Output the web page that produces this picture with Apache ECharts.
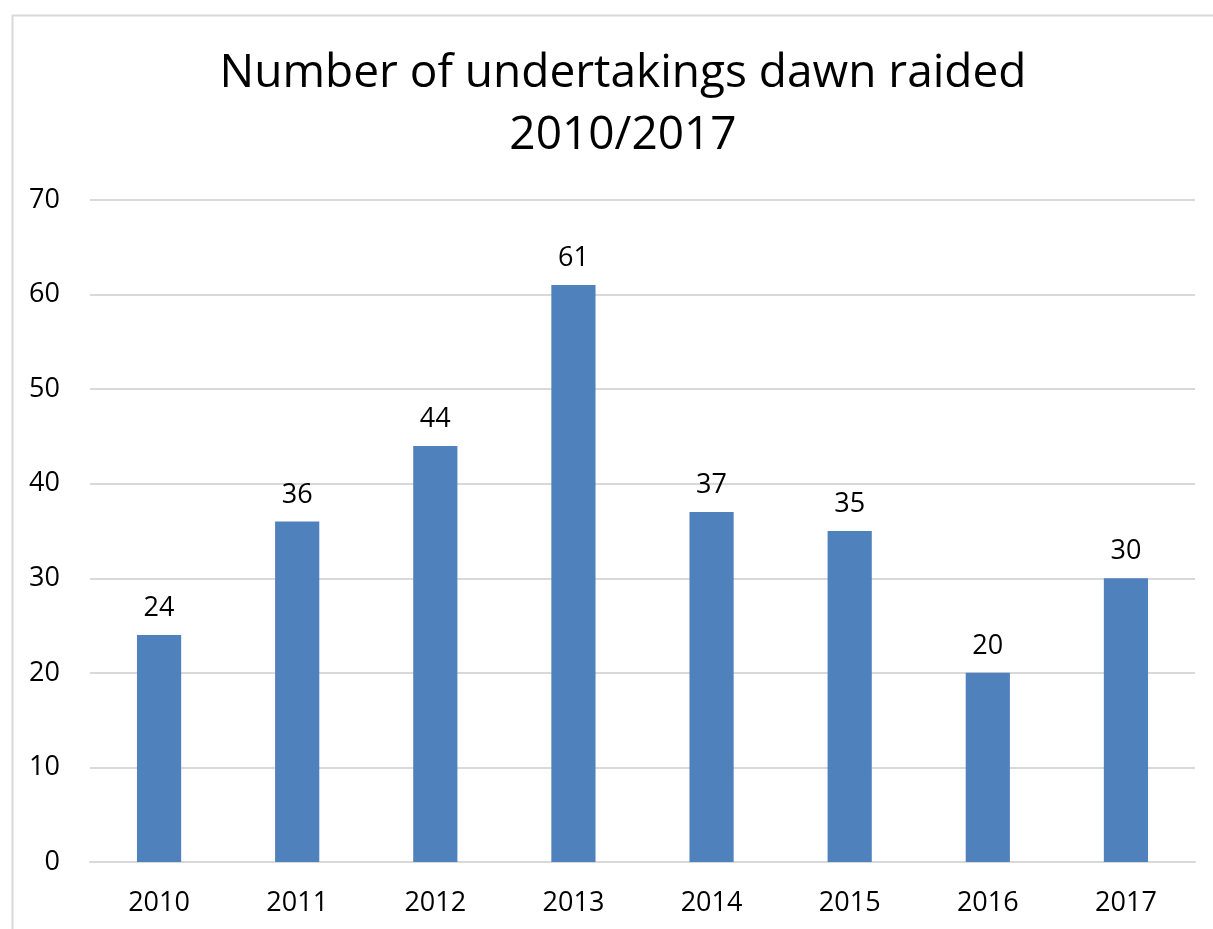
<!DOCTYPE html>
<html>
<head>
<meta charset="utf-8">
<script src="https://cdn.jsdelivr.net/npm/echarts@6/dist/echarts.min.js"></script>
<style>
  html, body { margin: 0; padding: 0; background: #fff; }
  #chart { width: 1213px; height: 929px; }
</style>
</head>
<body>
<div id="chart"></div>
<script>
const years = ["2010", "2011", "2012", "2013", "2014", "2015", "2016", "2017"];
const raids = [24, 36, 44, 61, 37, 35, 20, 30];
const yTicks = { min: 0, max: 70, interval: 10 };

const font = "'Open Sans', 'Noto Sans', sans-serif";
const chart = echarts.init(document.getElementById("chart"), null, { renderer: "canvas" });

chart.setOption({
  backgroundColor: "#fff",
  animation: false,
  graphic: [{
    type: "rect",
    left: 10, top: 13,
    shape: { width: 1300, height: 1000 },
    style: { fill: "none", stroke: "#d9d9d9", lineWidth: 2 },
    silent: true
  }],
  title: {
    text: "Number of undertakings dawn raided\n2010/2017",
    left: 618, top: 38, textAlign: "center",
    textStyle: { fontFamily: font, fontSize: 46, fontWeight: "normal", color: "#000", lineHeight: 62 }
  },
  grid: { left: 90, right: 18, top: 200, bottom: 67 },
  xAxis: {
    type: "category",
    data: years,
    axisLine: { lineStyle: { color: "#d9d9d9", width: 2 } },
    axisTick: { show: false },
    axisLabel: { color: "#000", fontFamily: font, fontSize: 27, margin: 28 }
  },
  yAxis: {
    type: "value",
    min: yTicks.min, max: yTicks.max, interval: yTicks.interval,
    axisLine: { show: false },
    axisTick: { show: false },
    splitLine: { lineStyle: { color: "#d9d9d9", width: 2 } },
    axisLabel: { color: "#000", fontFamily: font, fontSize: 27, margin: 30 }
  },
  series: [{
    type: "bar",
    data: raids,
    barWidth: "32%",
    itemStyle: { color: "#4f81bd" },
    label: {
      show: true, position: "top", distance: 13,
      color: "#000", fontFamily: font, fontSize: 27
    }
  }]
});
</script>
</body>
</html>
